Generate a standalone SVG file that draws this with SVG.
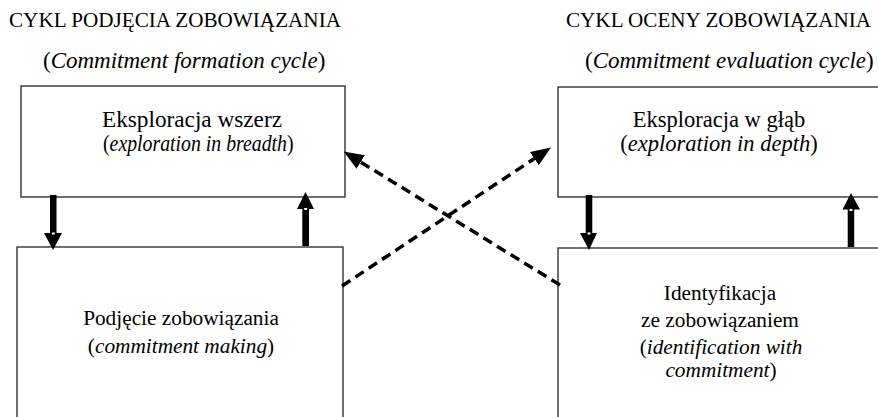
<svg xmlns="http://www.w3.org/2000/svg" width="878" height="417" viewBox="0 0 878 417" font-family="Liberation Serif, Times New Roman, Times, serif">
<style>
.t{font-size:21px}
.s{font-size:23px}
.b{font-size:22.5px}
.c{font-size:21.3px}
.i{font-style:italic}
.box{fill:#fff;stroke:#333;stroke-width:1.4}
.dash{fill:none;stroke:#000;stroke-width:3.5;stroke-dasharray:10 6}
</style>
<defs>
<marker id="ah" markerUnits="userSpaceOnUse" markerWidth="22" markerHeight="18" refX="2" refY="8" orient="auto">
<path d="M0,0 L20,8 L0,16 Z" fill="#000"/>
</marker>
</defs>
<rect width="878" height="417" fill="#fff"/>
<g font-family="Liberation Serif, serif" fill="#000">
<text class="t" x="9" y="27" textLength="332" lengthAdjust="spacingAndGlyphs">CYKL PODJĘCIA ZOBOWIĄZANIA</text>
<text class="s" x="43" y="68">(<tspan class="i">Commitment formation cycle</tspan>)</text>
<text class="t" x="566" y="27" textLength="305" lengthAdjust="spacingAndGlyphs">CYKL OCENY ZOBOWIĄZANIA</text>
<text class="s" x="585" y="68">(<tspan class="i">Commitment evaluation cycle</tspan>)</text>
</g>
<g id="node-breadth" font-family="Liberation Serif, serif">
<rect class="box" x="21" y="86" width="324" height="111"/>
<text class="s" x="102" y="127" textLength="180" lengthAdjust="spacingAndGlyphs">Eksploracja wszerz</text>
<text class="b" transform="translate(103,151) scale(0.88,1)">(<tspan class="i">exploration in breadth</tspan>)</text>
</g>
<g id="node-depth" font-family="Liberation Serif, serif">
<rect class="box" x="558" y="87" width="340" height="110"/>
<text class="b" x="719" y="127" text-anchor="middle">Eksploracja w głąb</text>
<text class="b" x="719" y="151" text-anchor="middle">(<tspan class="i">exploration in depth</tspan>)</text>
</g>
<g id="node-making" font-family="Liberation Serif, serif">
<rect class="box" x="17" y="247" width="326" height="190"/>
<text class="c" x="181" y="325" text-anchor="middle">Podjęcie zobowiązania</text>
<text class="c" x="181" y="353" text-anchor="middle">(<tspan class="i">commitment making</tspan>)</text>
</g>
<g id="node-identification" font-family="Liberation Serif, serif">
<rect class="box" x="558" y="248" width="340" height="190"/>
<text class="c" x="720" y="300" text-anchor="middle">Identyfikacja</text>
<text class="c" x="720" y="327" text-anchor="middle">ze zobowiązaniem</text>
<text class="c" x="721" y="354" text-anchor="middle">(<tspan class="i">identification with</tspan></text>
<text class="c" x="721" y="377" text-anchor="middle"><tspan class="i">commitment</tspan>)</text>
</g>
<g id="connectors">
<rect x="50" y="195" width="6.5" height="39" fill="#000"/>
<polygon points="44,233 62,233 53,250" fill="#000"/>
<rect x="51.8" y="232.5" width="3" height="2" fill="#fff"/>
<rect x="302.3" y="208" width="6.7" height="38" fill="#000"/>
<polygon points="297,209 314,209 305.5,192" fill="#000"/>
<rect x="304.2" y="208" width="3" height="2" fill="#fff"/>
<rect x="585.7" y="195" width="6.6" height="39" fill="#000"/>
<polygon points="580,233 597,233 589,250" fill="#000"/>
<rect x="587.5" y="232.5" width="3" height="2" fill="#fff"/>
<rect x="847.7" y="209" width="6.5" height="38" fill="#000"/>
<polygon points="842.5,209.5 860,209.5 851,193" fill="#000"/>
<rect x="849.5" y="209" width="3" height="2" fill="#fff"/>
<line class="dash" x1="342" y1="286" x2="536" y2="157.5" marker-end="url(#ah)"/>
<line class="dash" x1="560" y1="285" x2="359" y2="161" marker-end="url(#ah)"/>
</g>
</svg>
